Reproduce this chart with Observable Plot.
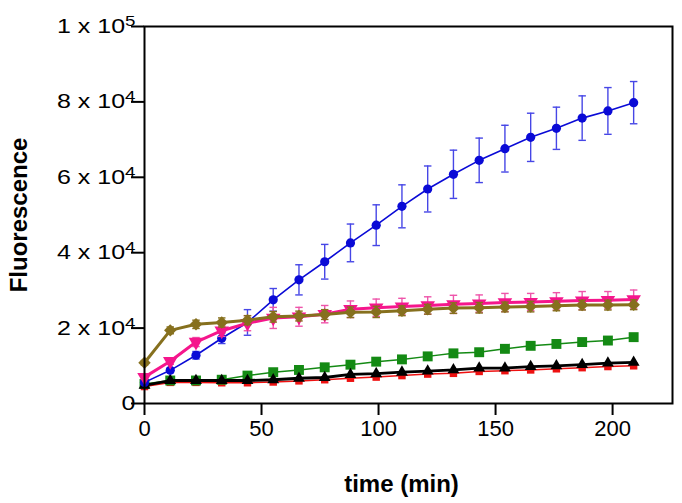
<!DOCTYPE html>
<html><head><meta charset="utf-8">
<script src="https://cdn.jsdelivr.net/npm/d3@7"></script>
<script src="https://cdn.jsdelivr.net/npm/@observablehq/plot@0.6"></script>
<style>
html,body{margin:0;padding:0;background:#fff;}
#chart{width:682px;height:503px;}
</style></head><body><div id="chart"></div>
<script>
const time = [0,11,22,33,44,55,66,77,88,99,110,121,132,143,154,165,176,187,198,209];

const blueVals = [5600,8800,12800,17300,21500,27500,32800,37600,42600,47300,52300,56900,60800,64500,67600,70600,73000,75700,77600,79800];
const blueErr  = [300,600,1000,1400,3400,3000,4000,4600,5000,5400,5700,6100,6400,5900,6200,6400,5600,5900,6200,5600];

const pinkVals = [7000,11200,16300,19300,21300,22700,23000,23700,25000,25400,25700,26000,26300,26500,26800,26900,27100,27300,27400,27600];
const pinkErr  = [500,800,1200,1500,2000,2800,2500,2300,2200,2300,2200,2300,2400,2300,2400,2300,2300,2400,2300,2500];

const brownVals = [10800,19400,21000,21500,22100,23000,23200,23600,24200,24300,24600,25000,25300,25400,25600,25700,25900,26100,26100,26200];
const brownErr  = [600,900,1100,1200,1200,1400,1300,1300,1400,1500,1300,1300,1400,1400,1300,1400,1300,1300,1300,1300];

const greenVals = [5200,6100,6100,6300,7400,8300,8900,9600,10300,11100,11700,12500,13300,13600,14500,15300,15800,16300,16700,17600];
const blackVals = [4800,6100,6100,6100,6100,6300,6700,6900,7700,7900,8300,8600,8900,9400,9400,9800,10000,10300,10700,10900];
const redVals   = [4500,5600,5600,5500,5500,5700,6000,6300,6700,7000,7400,7800,8000,8500,8700,8900,9200,9500,9800,10000];

const xTicks = [0,50,100,150,200];
const yTicks = [0,20000,40000,60000,80000,100000];
const yTickLabels = ["0","2 x 10|4","4 x 10|4","6 x 10|4","8 x 10|4","1 x 10|5"];
const xLabel = "time (min)";
const yLabel = "Fluorescence";

const S3 = Math.sqrt(3);
const triangleDown = {draw(context, size){
  const y = -Math.sqrt(size / (3 * S3));
  context.moveTo(0, -2 * y);
  context.lineTo(-S3 * y, y);
  context.lineTo(S3 * y, y);
  context.closePath();
}};

function table(vals, err){ return time.map((t,i)=>({t, v: vals[i], e: err ? err[i] : 0})); }

function seriesMarks(data, {color, errColor, width, symbol, r, hasErr}) {
  const m = [];
  if (hasErr) {
    const ew = 1.4, cap = 1.6;
    m.push(Plot.ruleX(data, {x:"t", y1: d=>d.v-d.e, y2: d=>d.v+d.e, stroke: errColor, strokeWidth: ew}));
    m.push(Plot.link(data, {x1: d=>d.t-cap, x2: d=>d.t+cap, y1: d=>d.v+d.e, y2: d=>d.v+d.e, stroke: errColor, strokeWidth: ew}));
    m.push(Plot.link(data, {x1: d=>d.t-cap, x2: d=>d.t+cap, y1: d=>d.v-d.e, y2: d=>d.v-d.e, stroke: errColor, strokeWidth: ew}));
  }
  m.push(Plot.line(data, {x:"t", y:"v", stroke: color, strokeWidth: width}));
  m.push(Plot.dot(data, {x:"t", y:"v", fill: color, stroke: "none", symbol, r}));
  return m;
}

const plot = Plot.plot({
  width: 682, height: 503,
  marginLeft: 144, marginRight: 10, marginTop: 26, marginBottom: 100,
  x: {domain: [0, 225.6]},
  y: {domain: [0, 100000]},
  style: {fontFamily: "'Liberation Sans', Arial, sans-serif", background: "#fff", color: "#000"},
  marks: [
    Plot.axisX({ticks: xTicks, tickSize: 12, tickPadding: 5, fontSize: 22, label: null, strokeWidth: 2}),
    Plot.axisY({ticks: yTicks, tickSize: 13, tickPadding: -4, fontSize: 20, label: null, strokeWidth: 2,
      tickFormat: d => yTickLabels[yTicks.indexOf(d)]}),
    ...seriesMarks(table(redVals), {color: "#ee1111", width: 1.5, symbol: "square", r: 4.2}),
    ...seriesMarks(table(greenVals), {color: "#148a14", width: 1.5, symbol: "square", r: 5.6}),
    ...seriesMarks(table(blackVals), {color: "#000000", width: 2.8, symbol: "triangle", r: 4.4}),
    ...seriesMarks(table(blueVals, blueErr), {color: "#0a0ad6", errColor: "#4646e6", width: 1.6, symbol: "circle", r: 4.6, hasErr: true}),
    ...seriesMarks(table(pinkVals, pinkErr), {color: "#f5168c", errColor: "#ee55aa", width: 3, symbol: triangleDown, r: 5.4, hasErr: true}),
    ...seriesMarks(table(brownVals, brownErr), {color: "#86701e", errColor: "#86701e", width: 3, symbol: "diamond2", r: 5.6, hasErr: true}),
    Plot.frame({stroke: "#000", strokeWidth: 2}),
    Plot.text([xLabel], {text: d => d, frameAnchor: "bottom", lineAnchor: "middle", textAnchor: "middle", dy: 81, dx: -7, fontWeight: "bold", fontSize: 24}),
    Plot.text([yLabel], {text: d => d, frameAnchor: "left", lineAnchor: "middle", textAnchor: "middle", dx: -125, rotate: -90, fontWeight: "bold", fontSize: 24})
  ]
});

// superscript exponents
const yTickTexts = d3.select(plot).selectAll('g[aria-label="y-axis tick label"] text');
yTickTexts.each(function(){
  const sel = d3.select(this);
  const t = this.textContent;
  if (t.includes("|")) {
    const [a, b] = t.split("|");
    sel.text(a);
    sel.append("tspan").attr("dy", "-7").attr("font-size", "15").text(b);
  }
});

document.getElementById("chart").appendChild(plot);

// the original's tick lettering is wider than it is tall: stretch glyphs in place
yTickTexts.each(function(){
  const L = this.getComputedTextLength();
  if (L > 0) {
    this.setAttribute("textLength", (L * 1.25).toFixed(1));
    this.setAttribute("lengthAdjust", "spacingAndGlyphs");
  }
});
</script>
</body></html>
